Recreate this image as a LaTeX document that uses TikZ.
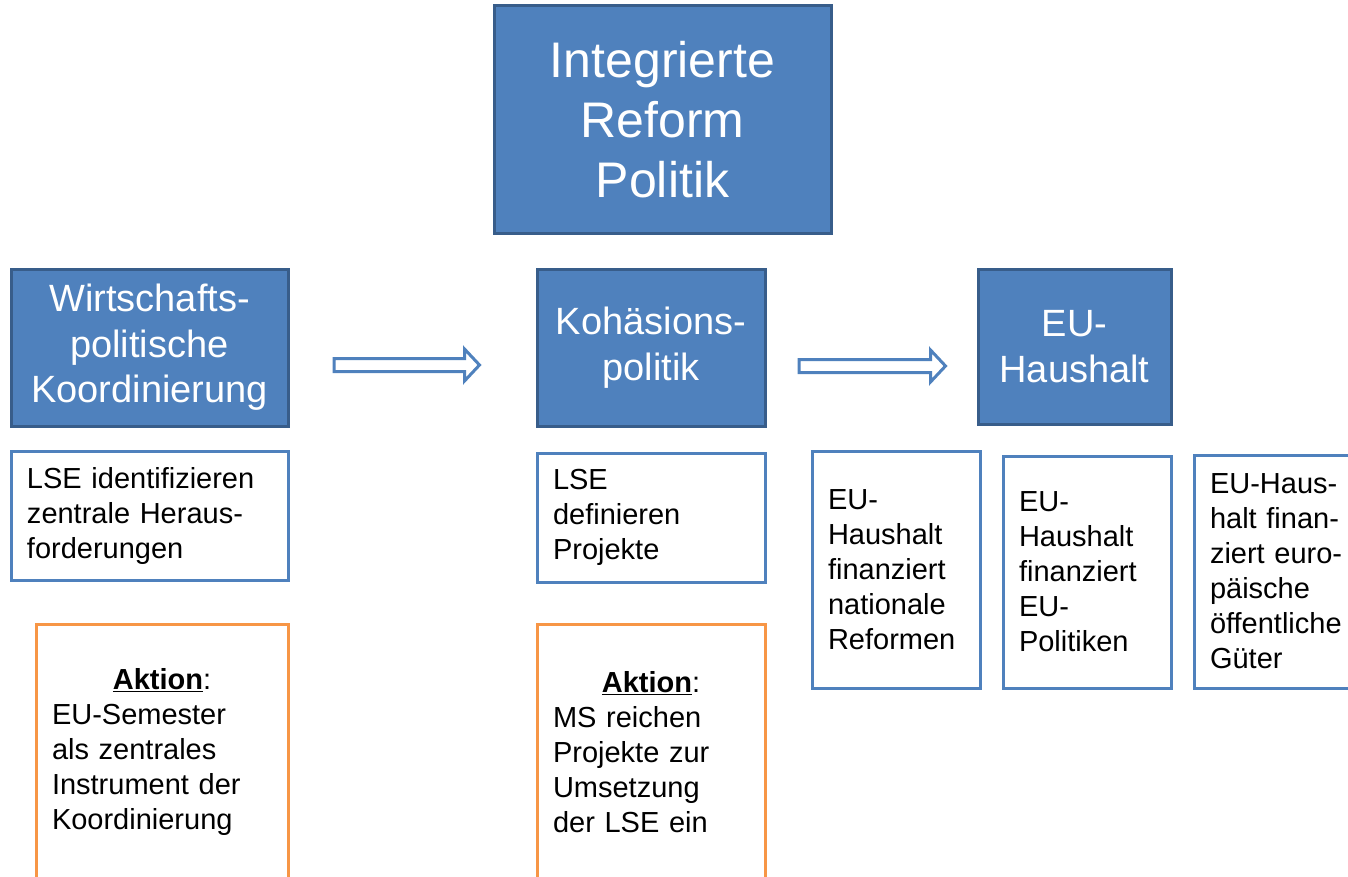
\documentclass[tikz,border=0pt]{standalone}
\usepackage{fontspec}
\setmainfont{Liberation Sans}
\usetikzlibrary{calc}
\definecolor{boxblue}{HTML}{4F81BD}
\definecolor{edgeblue}{HTML}{385D8A}
\definecolor{actorange}{HTML}{F79646}

\begin{document}
\begin{tikzpicture}[x=1pt,y=-1pt,
    titlebox/.style={draw=edgeblue, line width=3pt, fill=boxblue, text=white, align=center, inner sep=0pt},
    notebox/.style={draw=boxblue, line width=3pt, fill=white, align=left, inner xsep=16pt, inner ysep=0pt,
                    font=\fontsize{29}{35}\selectfont},
    actbox/.style={notebox, draw=actorange},
    hollow/.style={draw=boxblue, line width=3pt, fill=white, line join=miter}]
    \useasboundingbox (0,0) rectangle (1348,877);
    \clip (0,0) rectangle (1348,877);

    % blue headings
    \node[titlebox, minimum width=337, minimum height=228, font=\fontsize{50}{60}\selectfont] (irp) at (662.5,120) {Integrierte\\Reform\\Politik};
    \node[titlebox, minimum width=277, minimum height=157, font=\fontsize{38}{45.5}\selectfont] (wp) at (149.5,347.5) {Wirtschafts-\\politische\\Koordinierung};
    \node[titlebox, minimum width=228, minimum height=157, font=\fontsize{38}{45.5}\selectfont] (kp) at (651,347.5) {Kohäsions-\\politik};
    \node[titlebox, minimum width=193, minimum height=155, font=\fontsize{38}{45.5}\selectfont] (eu) at (1074.5,346.5) {EU-\\Haushalt};

    % hollow arrows
    \coordinate (a1s) at (334,365);
    \coordinate (a1e) at (479.5,365);
    \coordinate (a2s) at (799,366);
    \coordinate (a2e) at (945.5,366);
    \foreach \s/\e in {a1s/a1e,a2s/a2e}
      \draw[hollow] ($(\s)+(0,-6.5)$) -- ($(\e)+(-15,-6.5)$) -- ($(\e)+(-15,-16)$) -- (\e)
                    -- ($(\e)+(-15,16)$) -- ($(\e)+(-15,6.5)$) -- ($(\s)+(0,6.5)$) -- cycle;

    % notes
    \node[notebox, minimum width=277, minimum height=129, text width=245] (lse1) at (149.5,515.5) {LSE identifizieren\\zentrale Heraus-\\forderungen};
    \node[notebox, minimum width=228, minimum height=129, text width=196] (lse2) at (651,517.5) {LSE\\definieren\\Projekte};
    \node[notebox, minimum width=168, minimum height=237, text width=136] (fin1) at (896,569.5) {EU-\\Haushalt\\finanziert\\nationale\\Reformen};
    \node[notebox, minimum width=168, minimum height=232, text width=136] (fin2) at (1087,572) {EU-\\Haushalt\\finanziert\\EU-\\Politiken};
    \node[notebox, minimum width=168, minimum height=233, text width=136] (fin3) at (1278,571.5) {EU-Haus-\\halt finan-\\ziert euro-\\päische\\öffentliche\\Güter};

    % actions
    \node[actbox, minimum width=252, minimum height=256, text width=220] (act1) at (162,752)
      {\makebox[\linewidth]{\underline{\textbf{Aktion}}:}\\EU-Semester\\als zentrales\\Instrument der\\Koordinierung};
    \node[actbox, minimum width=228, minimum height=256, text width=196] (act2) at (651,752)
      {\makebox[\linewidth]{\underline{\textbf{Aktion}}:}\\MS reichen\\Projekte zur\\Umsetzung\\der LSE ein};
\end{tikzpicture}
\end{document}
